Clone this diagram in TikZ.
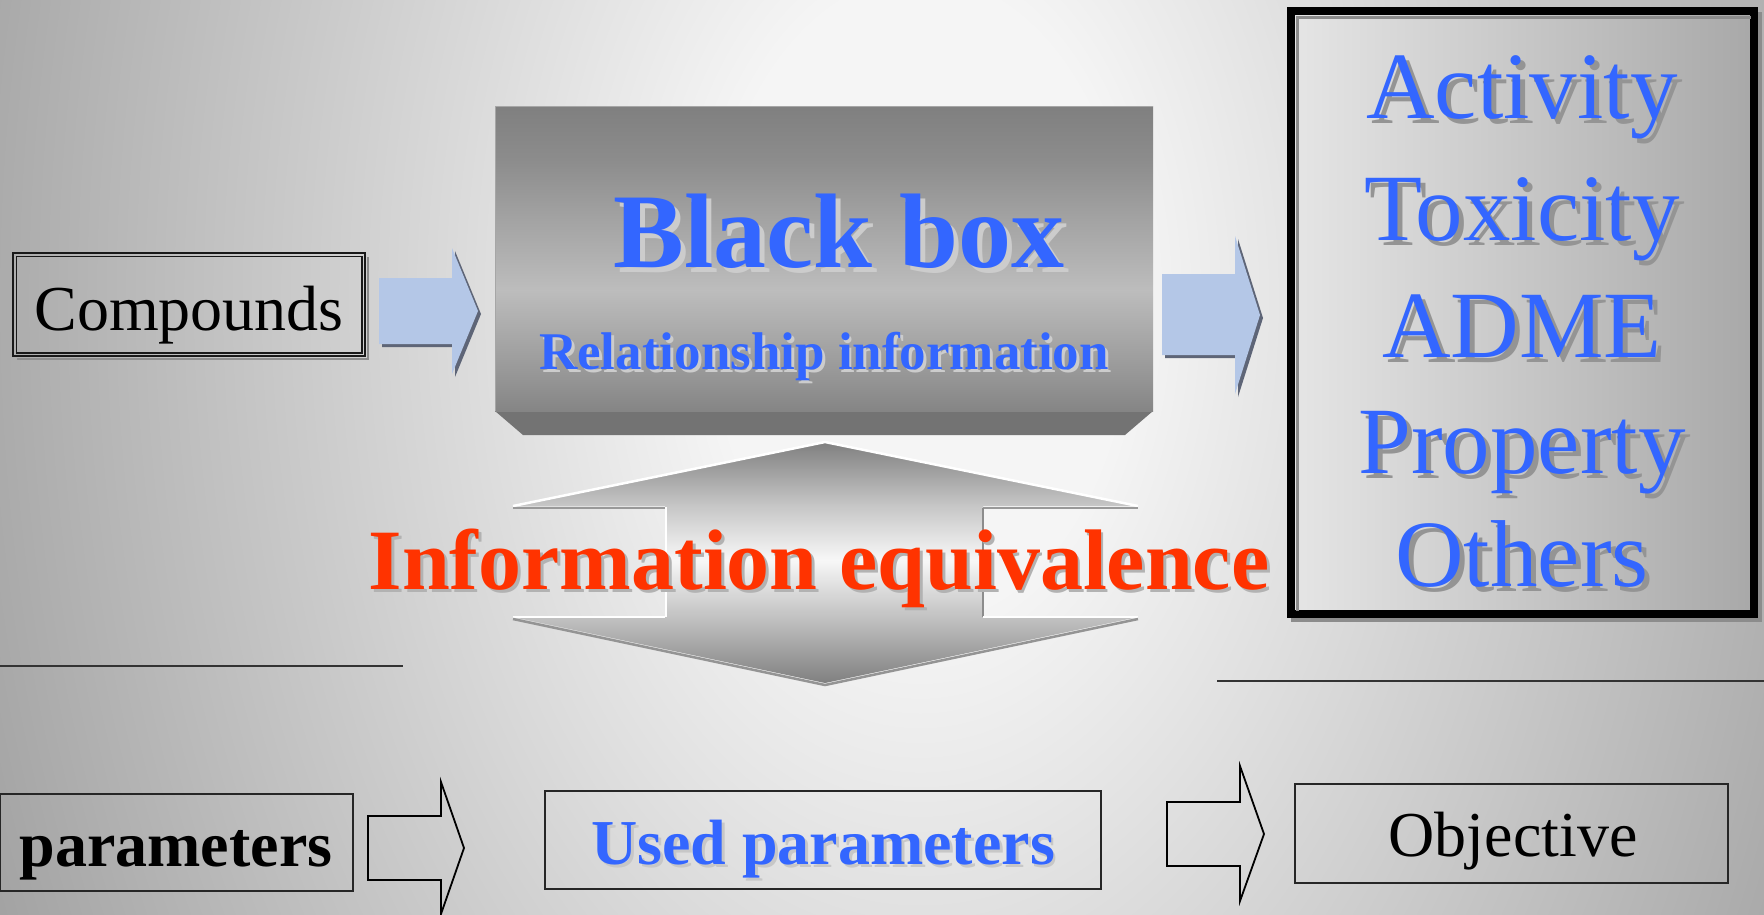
\documentclass[tikz,border=0pt]{standalone}
\usepackage{fontspec}
\setmainfont{Liberation Serif}

\definecolor{txtblue}{HTML}{3366FF}
\definecolor{txtred}{HTML}{FF3300}
\definecolor{arrowblue}{HTML}{B4C7E7}
\definecolor{arrowshade}{HTML}{5E6577}

\newcommand\setfs[1]{\fontsize{#1pt}{#1pt}\selectfont}
% text with a drop shadow cast right/down by (#1,#2) in colour #3
\newcommand\withshadow[4]{\makebox[0pt][l]{\hspace*{#1}\raisebox{-#2}{\textcolor{#3}{#4}}}#4}

% soft light glow of the slide background
\pgfdeclareradialshading{bgglow}{\pgfpoint{0bp}{0bp}}{%
  color(0bp)=(black!4); color(5bp)=(black!4);
  color(25bp)=(black!38); color(50bp)=(black!38)}
% front face of the black box (dark top, light band, dark bottom)
\pgfdeclareverticalshading{faceshade}{100bp}{%
  color(0bp)=(black!48); color(25bp)=(black!48); color(30bp)=(black!42);
  color(44.8bp)=(black!26); color(56.3bp)=(black!36); color(66.1bp)=(black!45);
  color(75bp)=(black!50); color(100bp)=(black!50)}
% double-headed arrow: grey tips, white middle
\pgfdeclareverticalshading{twinshade}{100bp}{%
  color(0bp)=(black!50); color(25bp)=(black!50); color(38.7bp)=(black!24);
  color(50.5bp)=(black!3); color(61.7bp)=(black!22); color(75bp)=(black!50);
  color(100bp)=(black!50)}

\tikzset{
  rule/.style={draw=black!80, line width=2pt},
  framebox/.style={draw=black!85, line width=2pt, inner sep=0pt},
  txt/.style={anchor=base, inner sep=0pt},
  outtxt/.style={txt, font=\setfs{95}, text=txtblue},
  outline arrow/.style={draw=black, line width=1.8pt},
}

\begin{document}
\begin{tikzpicture}[x=1pt,y=-1pt]
\useasboundingbox (0,0) rectangle (1764,914);

% background
\begin{scope}
  \clip (0,0) rectangle (1764,914);
  \shade[shading=bgglow] (-130,-1300) rectangle (1970,1900);
\end{scope}

% separator rules
\coordinate (ruleL0) at (0,666);
\coordinate (ruleL1) at (403,666);
\coordinate (ruleR0) at (1217,681);
\coordinate (ruleR1) at (1764,681);
\draw[rule] (ruleL0) -- (ruleL1);
\draw[rule] (ruleR0) -- (ruleR1);

% ---------- Compounds ----------
\draw[black!45, line width=2.5pt] (368,257) -- (368,359) -- (17,359);
\node[draw=black!90, line width=1.5pt, inner sep=0pt,
      minimum width=352pt, minimum height=103pt] (compBox) at (189,304.5) {};
\draw[black!90, line width=1.5pt]
  ([shift={(4pt,-4pt)}]compBox.north west) rectangle ([shift={(-4pt,4pt)}]compBox.south east);
\node[txt, font=\setfs{64}] (compText) at (189,330) {Compounds};

% ---------- blue block arrows ----------
\begin{scope}[shift={(3,3)}]
  \fill[arrowshade] (379,278) -- (452,278) -- (452,248) -- (478,311) -- (452,374) -- (452,344) -- (379,344) -- cycle;
  \fill[arrowshade] (1162,274) -- (1235,274) -- (1235,236) -- (1260,315) -- (1235,394) -- (1235,355) -- (1162,355) -- cycle;
\end{scope}
\fill[arrowblue] (379,278) -- (452,278) -- (452,248) -- (478,311) -- (452,374) -- (452,344) -- (379,344) -- cycle;
\fill[arrowblue] (1162,274) -- (1235,274) -- (1235,236) -- (1260,315) -- (1235,394) -- (1235,355) -- (1162,355) -- cycle;

% ---------- Black box ----------
\fill[black!55] (495,411) -- (1153,411) -- (1125,435) -- (523,435) -- cycle;
\shade[shading=faceshade] (495,106) rectangle (1153,411);
\draw[black!35, line width=1pt] (495,411) -- (495,106) -- (1153,106);
\node[txt, font=\bfseries\setfs{106}, text=txtblue] (blackText) at (839,267)
  {\withshadow{5pt}{5pt}{white!80!black}{Black box}};
\node[txt, font=\bfseries\setfs{53}, text=txtblue] (relText) at (824,369)
  {\withshadow{3pt}{3pt}{white!80!black}{Relationship information}};

% ---------- double arrow ----------
\shade[shading=twinshade] (825,442) -- (1138,506) -- (983,506) -- (983,617) -- (1138,617)
  -- (825,683) -- (513,617) -- (665,617) -- (665,506) -- (513,506) -- cycle;
\draw[white, line width=2.5pt] (513,506) -- (825,442) -- (1138,506);
\draw[black!40, line width=2pt] (513,508) -- (665,508) (983,508) -- (1138,508);
\draw[white, line width=2pt] (666,507) -- (666,617);
\draw[black!45, line width=2pt] (983,508) -- (983,617);
\draw[white, line width=2pt] (513,617) -- (665,617) (983,617) -- (1138,617);
\draw[black!42, line width=2.5pt] (513,619) -- (825,685) -- (1138,619);
\node[txt, font=\bfseries\setfs{86}, text=txtred] (eqText) at (819,589)
  {\withshadow{3pt}{3pt}{black!30}{Information equivalence}};

% ---------- outcome panel ----------
\draw[black!45, line width=8pt] (1295,16) rectangle (1758,618);
\node[draw=black, line width=8pt, inner sep=0pt, left color=black!10, right color=black!34,
      minimum width=463pt, minimum height=603pt] (outBox) at (1522.5,312.5) {};
\draw[black!45, line width=3pt] (1297,611) -- (1297,17) -- (1751,17);
\foreach \word/\yb [count=\k] in {Activity/118, Toxicity/240, ADME/357, Property/473, Others/586} {
  \node[outtxt] (out\k) at (1522,\yb) {\withshadow{5pt}{5pt}{black!42}{\word}};
}

% ---------- bottom row ----------
\node[framebox, minimum width=353pt, minimum height=97pt] (parBox) at (176.5,842.5) {};
\node[txt, font=\bfseries\setfs{64}] (parText) at (176,866) {parameters};

\draw[outline arrow] (368,816) -- (441,816) -- (441,782) -- (464,848) -- (441,914) -- (441,880) -- (368,880) -- cycle;

\node[framebox, minimum width=556pt, minimum height=98pt] (usedBox) at (823,840) {};
\node[txt, font=\bfseries\setfs{64}, text=txtblue] (usedText) at (823,864)
  {\withshadow{3pt}{3pt}{black!22}{Used parameters}};

\draw[outline arrow] (1167,802) -- (1240,802) -- (1240,766) -- (1264,834) -- (1240,901) -- (1240,866) -- (1167,866) -- cycle;

\node[framebox, minimum width=433pt, minimum height=99pt] (objBox) at (1511.5,833.5) {};
\node[txt, font=\setfs{64}] (objText) at (1513,856) {Objective};

\end{tikzpicture}
\end{document}
